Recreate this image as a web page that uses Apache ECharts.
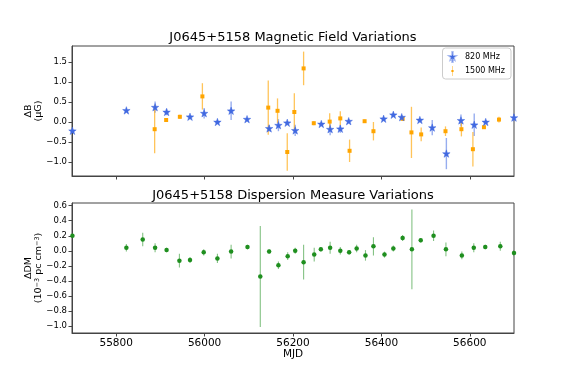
<!DOCTYPE html>
<html>
<head>
<meta charset="utf-8">
<script src="https://cdn.jsdelivr.net/npm/echarts@6/dist/echarts.min.js"></script>
<style>
  html, body { margin: 0; padding: 0; background: #fff; }
  #main { width: 572px; height: 382px; }
</style>
</head>
<body>
<div id="main"></div>
<script>
// 820 MHz 磁场变化
const mjd820 = [55701, 55823, 55888, 55914, 55967, 55999, 56029, 56060, 56096, 56146, 56167, 56187, 56205,
  56264, 56284, 56307, 56326, 56405, 56427, 56446, 56487, 56515, 56547, 56580, 56610, 56636, 56700];
const db820 = [-0.22, 0.29, 0.37, 0.25, 0.13, 0.22, 0.00, 0.28, 0.07, -0.16, -0.08, -0.02, -0.21,
  -0.05, -0.18, -0.17, 0.02, 0.08, 0.18, 0.12, 0.05, -0.14, -0.79, 0.04, -0.07, 0.00, 0.11];
const err820 = [0.03, 0.03, 0.14, 0.08, 0.04, 0.13, 0.04, 0.23, 0.03, 0.08, 0.15, 0.04, 0.14,
  0.04, 0.15, 0.10, 0.05, 0.04, 0.05, 0.04, 0.04, 0.19, 0.39, 0.15, 0.28, 0.05, 0.10];

// 1500 MHz 磁场变化
const mjd1500 = [55887, 55913, 55944, 55995, 56144, 56165, 56187, 56203, 56224, 56247, 56283, 56307,
  56328, 56362, 56382, 56448, 56468, 56490, 56545, 56581, 56607, 56632, 56666];
const db1500 = [-0.18, 0.05, 0.13, 0.64, 0.36, 0.28, -0.75, 0.25, 1.34, -0.03, 0.01, 0.09,
  -0.72, 0.02, -0.23, 0.08, -0.26, -0.31, -0.23, -0.18, -0.68, -0.13, 0.06];
const err1500 = [0.60, 0.03, 0.05, 0.33, 0.68, 0.31, 0.47, 0.47, 0.42, 0.05, 0.21, 0.18,
  0.28, 0.04, 0.23, 0.05, 0.64, 0.17, 0.12, 0.18, 0.43, 0.03, 0.07];

// 色散量变化
const mjdDM = [55701, 55823, 55860, 55888, 55914, 55943, 55967, 55998, 56029, 56060, 56097, 56126,
  56146, 56167, 56188, 56205, 56224, 56248, 56263, 56284, 56307, 56327, 56344, 56364, 56382,
  56407, 56427, 56448, 56469, 56489, 56518, 56546, 56582, 56609, 56635, 56669, 56700];
const dmVal = [0.20, 0.04, 0.15, 0.04, 0.01, -0.13, -0.12, -0.02, -0.10, -0.01, 0.05, -0.34,
  -0.01, -0.19, -0.07, 0.00, -0.15, -0.05, 0.02, 0.04, 0.00, -0.02, 0.03, -0.06, 0.06,
  -0.05, 0.03, 0.17, 0.02, 0.14, 0.20, 0.02, -0.06, 0.04, 0.05, 0.06, -0.03];
const dmErr = [0.03, 0.05, 0.09, 0.06, 0.03, 0.09, 0.04, 0.04, 0.06, 0.09, 0.03, 0.67,
  0.03, 0.05, 0.05, 0.04, 0.23, 0.09, 0.03, 0.08, 0.05, 0.03, 0.05, 0.07, 0.12,
  0.04, 0.04, 0.04, 0.53, 0.03, 0.07, 0.09, 0.05, 0.06, 0.03, 0.06, 0.04];

// 刻度
const xTicks = [55800, 56000, 56200, 56400, 56600];
const dbTicks = [-1.0, -0.5, 0.0, 0.5, 1.0, 1.5];
const dmTicks = [-1.0, -0.8, -0.6, -0.4, -0.2, 0.0, 0.2, 0.4, 0.6];

const BLUE = '#4169E1', ORANGE = '#FFA500', GREEN = '#1f8f1f';
const FONT = 'DejaVu Sans';

// 五角星
function starPath(withBar) {
  const pts = [];
  for (let i = 0; i < 10; i++) {
    const r = i % 2 ? 4 : 10;
    const a = -Math.PI / 2 + i * Math.PI / 5;
    pts.push((10 + r * Math.cos(a)).toFixed(2) + ' ' + (10 + r * Math.sin(a)).toFixed(2));
  }
  let p = 'M' + pts.join(' L') + ' Z';
  if (withBar) p = 'M9.3 -6 L10.7 -6 L10.7 26 L9.3 26 Z ' + p;
  return 'path://' + p;
}
const squareBar = 'path://M9.3 -6 L10.7 -6 L10.7 26 L9.3 26 Z M6.5 6.5 L13.5 6.5 L13.5 13.5 L6.5 13.5 Z';

const zip = (xs, ys, es) => xs.map((x, i) => [x, ys[i], es[i]]);
const minus = v => String(v).replace('-', '\u2212');

// 误差棒
function errBar(color, width, opacity) {
  return function (params, api) {
    const x = api.value(0), y = api.value(1), e = api.value(2);
    const p1 = api.coord([x, y - e]);
    const p2 = api.coord([x, y + e]);
    return {
      type: 'line',
      shape: {x1: p1[0], y1: p1[1], x2: p2[0], y2: p2[1]},
      style: {stroke: color, lineWidth: width, opacity: opacity}
    };
  };
}

const xAxisBase = {
  type: 'value', min: 55700, max: 56700,
  splitLine: {show: false},
  axisLine: {show: true, onZero: false, lineStyle: {color: '#444'}},
  axisTick: {show: true, length: 3.5, lineStyle: {color: '#444'}, customValues: xTicks},
};
const yAxisBase = {
  type: 'value',
  splitLine: {show: false},
  axisLine: {show: true, lineStyle: {color: '#444'}},
  axisTick: {show: true, length: 3.5, lineStyle: {color: '#444'}},
  nameLocation: 'middle', nameRotate: 90, nameGap: 28, nameMoveOverlap: false,
};

const myChart = echarts.init(document.getElementById('main'), null, {renderer: 'canvas'});

myChart.setOption({
  animation: false,
  textStyle: {fontFamily: FONT},
  title: [
    {text: 'J0645+5158 Magnetic Field Variations', left: 293, top: 31, textAlign: 'center',
      textStyle: {fontFamily: FONT, fontSize: 13, fontWeight: 'normal', color: '#000'}, padding: 0},
    {text: 'J0645+5158 Dispersion Measure Variations', left: 293, top: 189, textAlign: 'center',
      textStyle: {fontFamily: FONT, fontSize: 13, fontWeight: 'normal', color: '#000'}, padding: 0}
  ],
  legend: {
    data: [
      {name: '820 MHz', icon: starPath(true)},
      {name: '1500 MHz', icon: squareBar}
    ],
    orient: 'vertical', right: 61, top: 48,
    itemWidth: 9, itemHeight: 10, itemGap: 3,
    padding: [3, 6, 3, 6],
    borderColor: '#ccc', borderWidth: 1, borderRadius: 3,
    backgroundColor: '#fff',
    textStyle: {fontFamily: FONT, fontSize: 8, color: '#000', padding: [0, 0, 0, 3]}
  },
  grid: [
    {left: 72, right: 58, top: 46, height: 130, show: true, borderColor: '#444', borderWidth: 1},
    {left: 72, right: 58, top: 203, height: 130, show: true, borderColor: '#444', borderWidth: 1}
  ],
  xAxis: [
    Object.assign({}, xAxisBase, {gridIndex: 0, axisLabel: {show: false}}),
    Object.assign({}, xAxisBase, {
      gridIndex: 1,
      axisLabel: {customValues: xTicks, fontFamily: FONT, fontSize: 10.5, color: '#000', margin: 5,
        formatter: v => String(v)},
      name: 'MJD', nameLocation: 'middle', nameGap: 16, nameMoveOverlap: false,
      nameTextStyle: {fontFamily: FONT, fontSize: 10.5, color: '#000'}
    })
  ],
  yAxis: [
    Object.assign({}, yAxisBase, {
      gridIndex: 0, min: -1.35, max: 1.9,
      axisTick: Object.assign({}, yAxisBase.axisTick, {customValues: dbTicks}),
      axisLabel: {customValues: dbTicks, fontFamily: FONT, fontSize: 8.5, color: '#000', margin: 5,
        formatter: v => minus(v.toFixed(1))},
      name: '\u0394B\n(\u03bcG)',
      nameTextStyle: {fontFamily: FONT, fontSize: 9.5, color: '#000', lineHeight: 10, align: 'center'}
    }),
    Object.assign({}, yAxisBase, {
      gridIndex: 1, min: -1.09, max: 0.635,
      axisTick: Object.assign({}, yAxisBase.axisTick, {customValues: dmTicks}),
      axisLabel: {customValues: dmTicks, fontFamily: FONT, fontSize: 8.5, color: '#000', margin: 5,
        formatter: v => minus(v.toFixed(1))},
      name: '{n|\u0394DM}\n{n|(10}{s|\u22123}{n| pc cm}{s|\u22123}{n|)}',
      nameTextStyle: {
        fontFamily: FONT, fontSize: 9.5, color: '#000', lineHeight: 10, align: 'center',
        rich: {
          n: {fontFamily: FONT, fontSize: 9.5, color: '#000', lineHeight: 10},
          s: {fontFamily: FONT, fontSize: 6.5, color: '#000', lineHeight: 10, verticalAlign: 'top', padding: [0, 0, 4, 0]}
        }
      }
    })
  ],
  series: [
    {type: 'custom', name: '820 err', xAxisIndex: 0, yAxisIndex: 0, clip: true, z: 1,
      renderItem: errBar(BLUE, 1.4, 0.55), data: zip(mjd820, db820, err820)},
    {type: 'custom', name: '1500 err', xAxisIndex: 0, yAxisIndex: 0, clip: true, z: 1,
      renderItem: errBar(ORANGE, 1.3, 0.65), data: zip(mjd1500, db1500, err1500)},
    {type: 'scatter', name: '820 MHz', xAxisIndex: 0, yAxisIndex: 0, z: 3,
      symbol: starPath(false), symbolSize: 7.5,
      itemStyle: {color: BLUE, borderColor: 'rgba(65,105,225,0.45)', borderWidth: 1, opacity: 1},
      data: zip(mjd820, db820, err820)},
    {type: 'scatter', name: '1500 MHz', xAxisIndex: 0, yAxisIndex: 0, z: 2,
      symbol: 'rect', symbolSize: 4,
      itemStyle: {color: ORANGE, opacity: 1},
      data: zip(mjd1500, db1500, err1500)},
    {type: 'custom', name: 'DM err', xAxisIndex: 1, yAxisIndex: 1, clip: true, z: 1,
      renderItem: errBar(GREEN, 1.1, 0.55), data: zip(mjdDM, dmVal, dmErr)},
    {type: 'scatter', name: 'DM', xAxisIndex: 1, yAxisIndex: 1, z: 2,
      symbol: 'circle', symbolSize: 4.5,
      itemStyle: {color: GREEN, opacity: 1},
      data: zip(mjdDM, dmVal, dmErr)}
  ]
});
</script>
</body>
</html>
